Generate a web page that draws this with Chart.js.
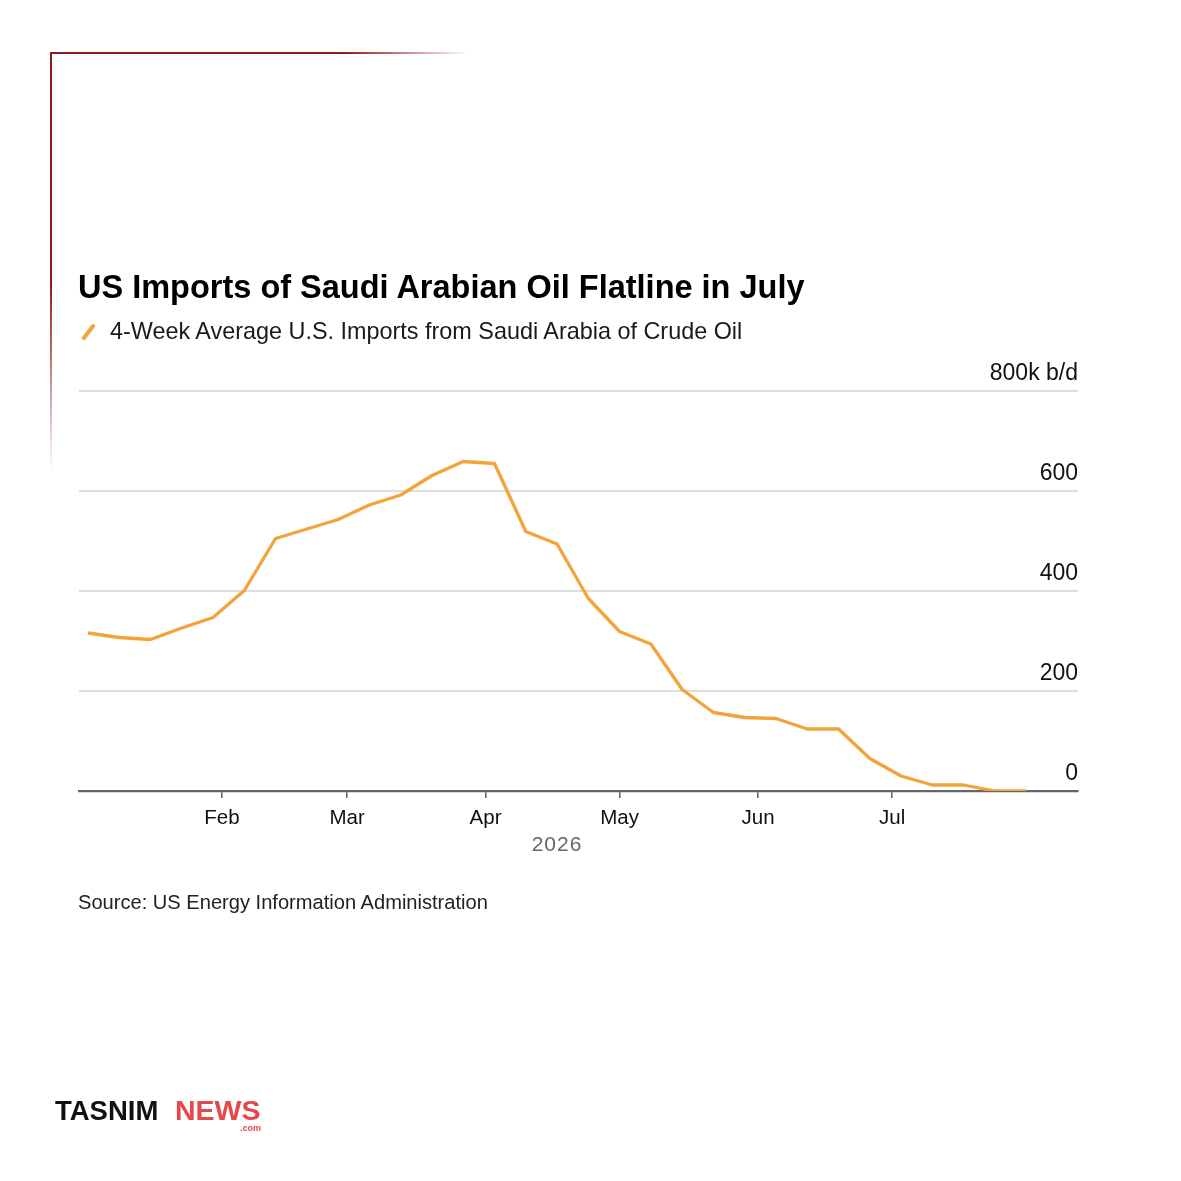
<!DOCTYPE html>
<html>
<head>
<meta charset="utf-8">
<script src="https://cdn.jsdelivr.net/npm/chart.js@4.4.1/dist/chart.umd.min.js"></script>
<style>
  html, body { margin:0; padding:0; background:#fff; }
  #wrap { position:relative; width:1181px; height:1181px; overflow:hidden; background:#fff; font-family:"Liberation Sans", Arial, Helvetica, sans-serif; }
  #chart { position:absolute; left:0; top:0; width:1181px; height:1181px; }
  .t { position:absolute; white-space:nowrap; }
  #frameTop { position:absolute; left:50px; top:52px; width:420px; height:2px; background:linear-gradient(to right, #8e1b1b 0%, #8e1b1b 70%, rgba(142,27,27,0) 100%); }
  #frameLeft { position:absolute; left:50px; top:52px; width:2px; height:420px; background:linear-gradient(to bottom, #8e1b1b 0%, #8e1b1b 55%, rgba(142,27,27,0) 100%); }
  #icon { position:absolute; left:79px; top:330px; width:19px; height:4px; background:#f2a33a; border-radius:2px; transform:rotate(-52deg); }
</style>
</head>
<body>
<div id="wrap">
  <div id="frameTop"></div>
  <div id="frameLeft"></div>
  <canvas id="chart" width="1181" height="1181"></canvas>
  <div class="t" style="left:78px;top:267px;font-size:32.5px;line-height:40px;font-weight:bold;color:#000;">US Imports of Saudi Arabian Oil Flatline in July</div>
  <div id="icon"></div>
  <div class="t" style="left:110px;top:316px;font-size:23.4px;line-height:30px;color:#1a1a1a;">4-Week Average U.S. Imports from Saudi Arabia of Crude Oil</div>
  <div class="t" style="left:457px;top:831px;width:200px;text-align:center;font-size:21px;line-height:26px;color:#666;letter-spacing:1px;">2026</div>
  <div class="t" style="left:78px;top:889px;font-size:20.1px;line-height:26px;color:#222;">Source: US Energy Information Administration</div>
  <div class="t" style="left:55px;top:1094px;font-size:27.5px;line-height:34px;font-weight:bold;color:#111;">TASNIM</div>
  <div class="t" style="left:175px;top:1093px;font-size:28.5px;line-height:34px;font-weight:bold;color:#e5484b;">NEWS</div>
  <div class="t" style="left:240px;top:1123px;font-size:9px;line-height:10px;font-weight:bold;color:#e5484b;">.com</div>
</div>
<script>
// Week-ending dates (2026) and 4-week average imports (thousand b/d)
const weekDates = [
  '2026-01-02','2026-01-09','2026-01-16','2026-01-23','2026-01-30',
  '2026-02-06','2026-02-13','2026-02-20','2026-02-27',
  '2026-03-06','2026-03-13','2026-03-20','2026-03-27',
  '2026-04-03','2026-04-10','2026-04-17','2026-04-24',
  '2026-05-01','2026-05-08','2026-05-15','2026-05-22','2026-05-29',
  '2026-06-05','2026-06-12','2026-06-19','2026-06-26',
  '2026-07-03','2026-07-10','2026-07-17','2026-07-24','2026-07-31'
];
const importsKbd = [
  316, 307, 303, 326, 347,
  401, 505, 524, 543,
  572, 592, 631, 659,
  655, 519, 494, 385,
  319, 294, 203, 157, 147,
  145, 124, 124, 65,
  30, 12, 12, 0, 0
];
const monthTickDates = ['2026-02-01','2026-03-01','2026-04-01','2026-05-01','2026-06-01','2026-07-01'];
const monthTickLabels = ['Feb','Mar','Apr','May','Jun','Jul'];
const yTickValues = [0, 200, 400, 600, 800];
const yTickLabels = ['0', '200', '400', '600', '800k b/d'];

const DAY = 86400000;
const origin = Date.UTC(2026, 0, 1);
function dayOf(s) { const p = s.split('-').map(Number); return (Date.UTC(p[0], p[1]-1, p[2]) - origin) / DAY; }

const points = weekDates.map((d, i) => ({ x: dayOf(d), y: importsKbd[i] }));
const monthTicks = monthTickDates.map(dayOf);

new Chart(document.getElementById('chart'), {
  type: 'line',
  data: {
    datasets: [{
      data: points,
      borderColor: '#f2a33a',
      borderWidth: 3.3,
      pointRadius: 0,
      tension: 0,
      fill: false,
      borderJoinStyle: 'round',
      borderCapStyle: 'butt'
    }]
  },
  options: {
    responsive: false,
    animation: false,
    devicePixelRatio: 1,
    layout: { padding: { left: 79, right: 103, top: 391, bottom: 350 } },
    plugins: { legend: { display: false }, tooltip: { enabled: false }, title: { display: false } },
    scales: {
      x: {
        type: 'linear',
        min: -1,
        max: 222.6,
        afterFit: (s) => { s.height = 40; },
        afterBuildTicks: (s) => { s.ticks = monthTicks.map(v => ({ value: v })); },
        ticks: {
          callback: (v) => { const i = monthTicks.indexOf(v); return i >= 0 ? monthTickLabels[i] : ''; },
          font: { family: '"Liberation Sans", Arial, sans-serif', size: 20.5 },
          color: '#111',
          padding: 8,
          maxRotation: 0,
          autoSkip: false
        },
        grid: { drawOnChartArea: false, drawTicks: true, tickLength: 7, color: '#666', lineWidth: 1.6 },
        border: { display: true, color: '#666', width: 2.2 }
      },
      y: {
        position: 'right',
        min: 0,
        max: 800,
        afterFit: (s) => { s.width = 0; },
        afterBuildTicks: (s) => { s.ticks = yTickValues.map(v => ({ value: v })); },
        ticks: {
          mirror: true,
          padding: 0,
          labelOffset: -17,
          callback: (v) => { const i = yTickValues.indexOf(v); return i >= 0 ? yTickLabels[i] : ''; },
          font: { family: '"Liberation Sans", Arial, sans-serif', size: 23 },
          color: '#111'
        },
        grid: { drawTicks: false, color: (c) => c.tick && c.tick.value === 0 ? 'rgba(0,0,0,0)' : '#dedede', lineWidth: 2 },
        border: { display: false }
      }
    }
  }
});
</script>
</body>
</html>
